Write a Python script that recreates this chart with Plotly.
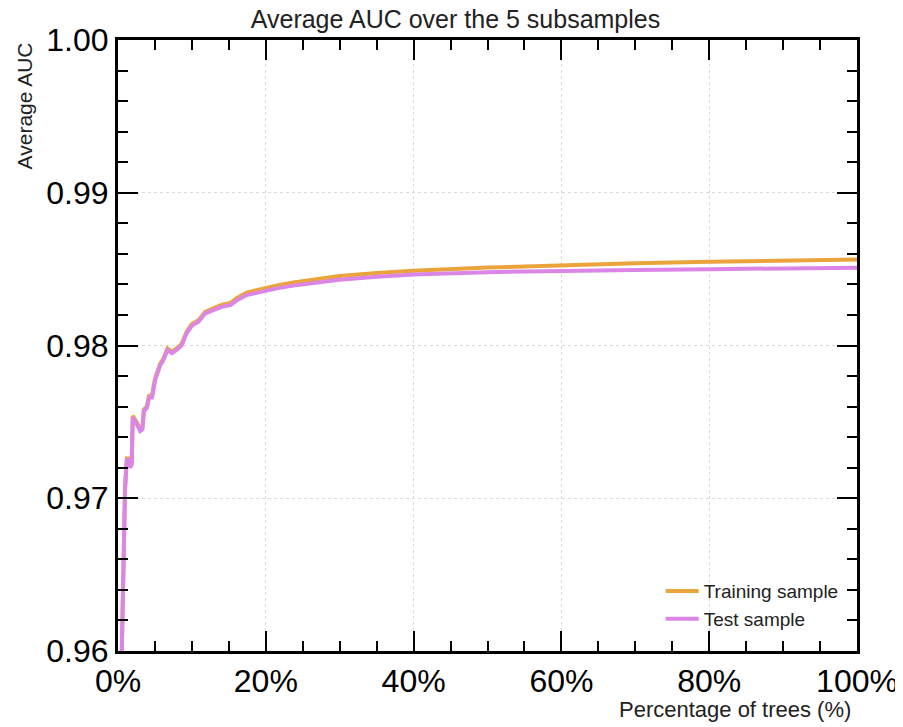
import plotly.graph_objects as go

# Percentage of trees (%)
pct = [0.5, 0.65, 0.75, 0.85, 0.95, 1.05, 1.2, 1.5, 1.65, 1.85, 2.0, 2.5, 3.0, 3.3, 3.5,
       3.9, 4.2, 4.6, 5.0, 5.7, 6.1, 6.7, 7.3, 7.9, 8.6, 9.3, 10.0, 10.9, 11.8, 12.9,
       14.0, 15.2, 16.1, 17.4, 19.2, 21.5, 23.7, 26.0, 30.0, 35.0, 40.0, 50.0, 60.0,
       70.0, 80.0, 90.0, 100.0]

test_auc = [0.9596, 0.9633, 0.9666, 0.9699, 0.9705, 0.9714, 0.9725, 0.9725, 0.9720, 0.9722,
            0.9753, 0.9749, 0.9744, 0.9745, 0.9757, 0.9759, 0.9766, 0.9766, 0.9777, 0.9787,
            0.9790, 0.9797, 0.9795, 0.9797, 0.9800, 0.9808, 0.9813, 0.98155, 0.9821, 0.98232,
            0.98253, 0.98264, 0.98297, 0.98330, 0.98351, 0.98374, 0.98392, 0.98408, 0.98430,
            0.98450, 0.98465, 0.98480, 0.98489, 0.98495, 0.98500, 0.98505, 0.98509]

train_auc = [0.9597, 0.9634, 0.9667, 0.9700, 0.9706, 0.9715, 0.9726, 0.9726, 0.9721, 0.9723,
             0.9754, 0.9750, 0.9745, 0.9746, 0.9758, 0.9760, 0.9767, 0.9767, 0.9778, 0.9788,
             0.9791, 0.9798, 0.9796, 0.9798, 0.9801, 0.9809, 0.9814, 0.98165, 0.9822, 0.98243,
             0.98265, 0.98278, 0.98312, 0.98346, 0.98368, 0.98393, 0.98412, 0.98430, 0.98455,
             0.98475, 0.98489, 0.98510, 0.98526, 0.98538, 0.98548, 0.98556, 0.98563]

x_ticks = [0, 20, 40, 60, 80, 100]
x_tick_labels = ["0%", "20%", "40%", "60%", "80%", "100%"]
y_ticks = [0.96, 0.97, 0.98, 0.99, 1.00]
y_tick_labels = ["0.96", "0.97", "0.98", "0.99", "1.00"]

FONT = "Liberation Sans, Arial, Helvetica, sans-serif"

fig = go.Figure()
fig.add_trace(go.Scatter(x=pct, y=train_auc, mode="lines", name="Training sample",
                         line=dict(color="#EBA43C", width=4)))
fig.add_trace(go.Scatter(x=pct, y=test_auc, mode="lines", name="Test sample",
                         line=dict(color="#DB86E7", width=4)))

axis_common = dict(
    showline=True, linecolor="black", linewidth=3, mirror="ticks",
    ticks="inside", ticklen=20, tickwidth=2, tickcolor="black",
    showgrid=True, gridcolor="#d9d9d9", griddash="dot", gridwidth=1,
    zeroline=False, automargin=False,
    tickfont=dict(family=FONT, size=32, color="black"),
)

fig.update_xaxes(range=[0, 100], tickmode="array", tickvals=x_ticks, ticktext=x_tick_labels,
                 minor=dict(dtick=5, ticks="inside", ticklen=10, tickwidth=2,
                            tickcolor="black", showgrid=False),
                 **axis_common)
fig.update_yaxes(range=[0.96, 1.00], tickmode="array", tickvals=y_ticks, ticktext=y_tick_labels,
                 minor=dict(dtick=0.002, ticks="inside", ticklen=10, tickwidth=2,
                            tickcolor="black", showgrid=False),
                 **axis_common)

fig.update_layout(
    width=895, height=719,
    margin=dict(l=110, r=46, t=32, b=76),
    plot_bgcolor="white", paper_bgcolor="white",
    title=dict(text="Average AUC over the 5 subsamples", x=0.5, xanchor="center",
               y=0.985, yanchor="middle",
               font=dict(family=FONT, size=25, color="#222")),
    legend=dict(x=0.982, y=0.021, xanchor="right", yanchor="bottom",
                bgcolor="rgba(0,0,0,0)", font=dict(family=FONT, size=19, color="#222"),
                itemwidth=33),
    annotations=[
        dict(text="Average AUC", xref="paper", yref="paper", x=-0.126, y=1.0,
             xanchor="center", yanchor="top", textangle=-90, showarrow=False,
             font=dict(family=FONT, size=21, color="#222")),
        dict(text="Percentage of trees (%)", xref="paper", yref="paper", x=0.9946, y=-0.0955,
             xanchor="right", yanchor="middle", showarrow=False,
             font=dict(family=FONT, size=22, color="#222")),
    ],
)

fig.write_html("out.html")
